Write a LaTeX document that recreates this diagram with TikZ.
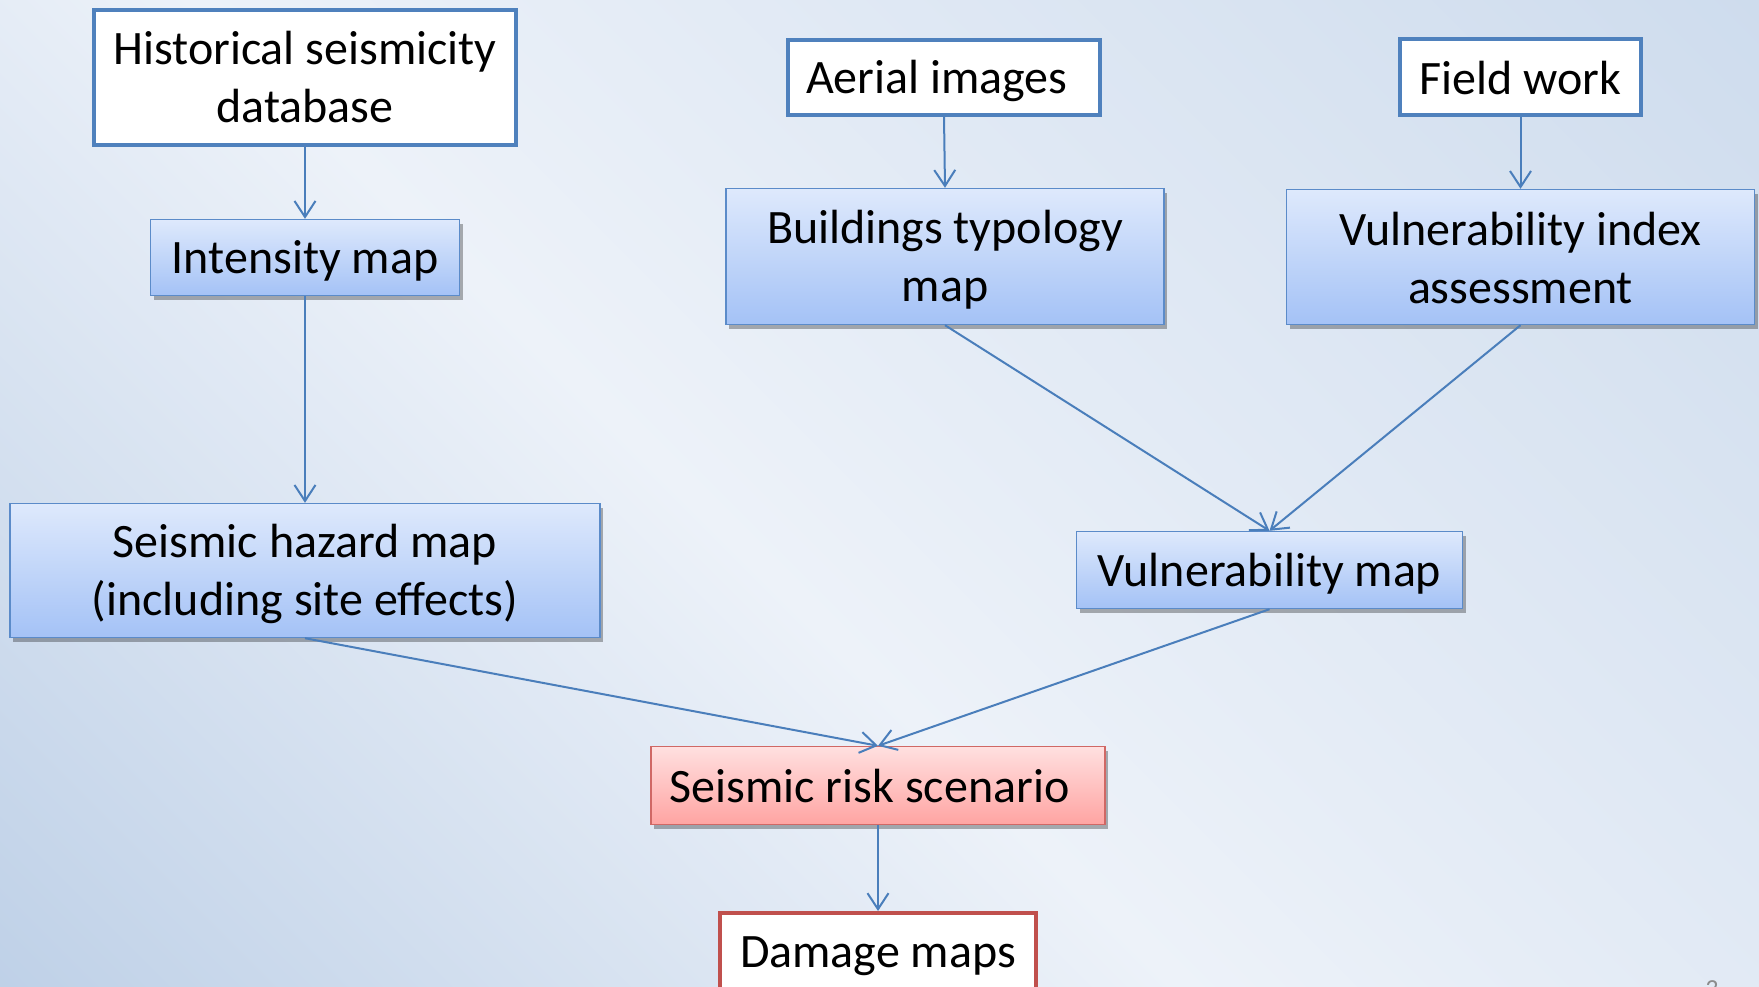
\documentclass[tikz,border=0pt]{standalone}
\usepackage{fontspec}
\setmainfont{Carlito}
\usetikzlibrary{arrows.meta,shadows}
\definecolor{bgdark}{HTML}{A9C1DF}
\definecolor{bglight}{HTML}{EDF2F9}
\definecolor{bgtr}{HTML}{C3D4E9}
\definecolor{bluebd}{HTML}{4F81BD}
\definecolor{bluebd2}{HTML}{5B8BC9}
\definecolor{bluetop}{HTML}{DEE9FC}
\definecolor{bluebot}{HTML}{A4C2F6}
\definecolor{redbd}{HTML}{C0504D}
\definecolor{redbd2}{HTML}{D06865}
\definecolor{redtop}{HTML}{FFE0E0}
\definecolor{redbot}{HTML}{FFA4A2}
\definecolor{arrowc}{HTML}{4A7EBB}
\pgfdeclarehorizontalshading{bgshade}{100bp}{color(0bp)=(bgdark); color(45bp)=(bglight); color(100bp)=(bgtr)}
\begin{document}
\begin{tikzpicture}[x=0.5pt,y=-0.5pt,
  box/.style={rectangle, inner sep=0pt},
  txt/.style 2 args={label={[inner sep=0pt, align=center, font=\fontsize{24}{29}\selectfont, text=black, yshift=#2]center:{#1}}},
  whitebox/.style={box, fill=white, draw=bluebd, line width=2pt},
  bluebox/.style={box, top color=bluetop, bottom color=bluebot, draw=bluebd2, line width=0.7pt,
    drop shadow={shadow xshift=1.5pt, shadow yshift=-2pt, opacity=0.3, fill=black}},
  redbox/.style={box, top color=redtop, bottom color=redbot, draw=redbd2, line width=0.7pt,
    drop shadow={shadow xshift=1.5pt, shadow yshift=-2pt, opacity=0.3, fill=black}},
  redwhite/.style={box, fill=white, draw=redbd, line width=2pt},
  link/.style={draw=arrowc, line width=1pt, -{Straight Barb[length=8pt,width=10.5pt,line width=1pt]}}
]
\useasboundingbox (0,0) rectangle (1759,986);
\clip (0,0) rectangle (1759,986);
\shade[shading=bgshade, shading angle=45] (0,0) rectangle (1759,986);

\node[whitebox, minimum width=211pt, minimum height=67.5pt, txt={Historical seismicity\\database}{0pt}] (hist) at (305,77.5) {};
\node[bluebox, minimum width=154.5pt, minimum height=38pt, txt={Intensity map}{-1.75pt}] (int) at (305,257.5) {};
\node[whitebox, minimum width=156pt, minimum height=37.5pt, txt={Aerial images\hspace*{0.3em}}{-1.75pt}] (aer) at (944,77.5) {};
\node[whitebox, minimum width=120.5pt, minimum height=38pt, txt={Field work}{-0.6pt}] (field) at (1520.5,77) {};
\node[bluebox, minimum width=219pt, minimum height=68pt, txt={Buildings typology\\map}{-1.75pt}] (bld) at (945,256.5) {};
\node[bluebox, minimum width=234pt, minimum height=67.5pt, txt={Vulnerability index\\assessment}{-0.6pt}] (vidx) at (1520.5,257) {};
\node[bluebox, minimum width=295pt, minimum height=67pt, txt={Seismic hazard map\\(including site effects)}{-1.75pt}] (haz) at (305,570.5) {};
\node[bluebox, minimum width=193pt, minimum height=38.5pt, txt={Vulnerability map}{-1.75pt}] (vmap) at (1269.5,570) {};
\node[redbox, minimum width=227pt, minimum height=39pt, txt={Seismic risk scenario\hspace*{0.35em}}{0pt}] (risk) at (878,785.5) {};
\node[redwhite, minimum width=158pt, minimum height=40pt, txt={Damage maps}{-1.75pt}] (dmg) at (878,953) {};
\node[box, anchor=north, font=\fontsize{13}{15}\selectfont, text=black!45] (pg) at (1712,980) {3};

\draw[link] (hist.south) -- (int.north);
\draw[link] (int.south) -- (haz.north);
\draw[link] (aer.south) -- (bld.north);
\draw[link] (field.south) -- (vidx.north);
\draw[link] (bld.south) -- (vmap.north);
\draw[link] (vidx.south) -- (vmap.north);
\draw[link] (haz.south) -- (risk.north);
\draw[link] (vmap.south) -- (risk.north);
\draw[link] (risk.south) -- (dmg.north);
\end{tikzpicture}
\end{document}
